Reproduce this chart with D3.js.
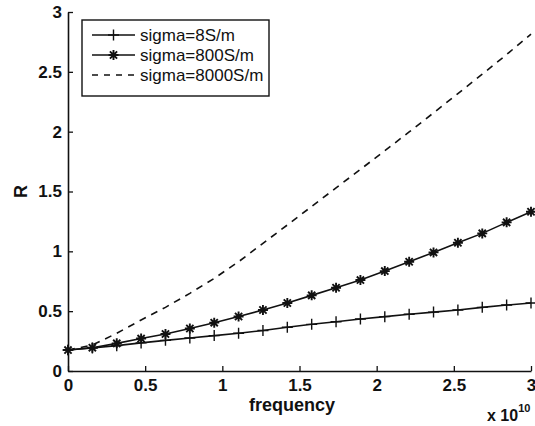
<!DOCTYPE html>
<html>
<head>
<meta charset="utf-8">
<script src="https://cdn.jsdelivr.net/npm/d3@7"></script>
<style>
  body { margin: 0; background: #fff; }
  text { font-family: "Liberation Sans", Arial, sans-serif; fill: #111; }
</style>
</head>
<body>
<svg id="chart" width="535" height="426"></svg>
<script>
// 20 points, linspace(0, 3e10, 20), in units of 1e10
var freq = d3.range(20).map(function(i){ return i * 3 / 19; });

var sigma8 = [0.175, 0.192, 0.212, 0.235, 0.256, 0.276, 0.296, 0.316, 0.338, 0.366,
              0.39, 0.412, 0.434, 0.454, 0.474, 0.492, 0.51, 0.532, 0.551, 0.568];
var sigma800 = [0.175, 0.195, 0.231, 0.271, 0.309, 0.355, 0.404, 0.455, 0.51, 0.568,
                0.632, 0.696, 0.76, 0.835, 0.913, 0.991, 1.072, 1.15, 1.242, 1.331];
var sigma8000 = [0.175, 0.217, 0.315, 0.426, 0.532, 0.649, 0.774, 0.913, 1.067, 1.22,
                 1.375, 1.53, 1.685, 1.84, 1.998, 2.157, 2.318, 2.48, 2.645, 2.815];

var xTicks = [0, 0.5, 1, 1.5, 2, 2.5, 3];
var yTicks = [0, 0.5, 1, 1.5, 2, 2.5, 3];
var legendLabels = ['sigma=8S/m', 'sigma=800S/m', 'sigma=8000S/m'];

var svg = d3.select('#chart');

var x = d3.scaleLinear().domain([0, 3]).range([68, 531]);
var y = d3.scaleLinear().domain([0, 3]).range([371, 12]);

// axes, ticks pointing inward
var xAxis = svg.append('g')
	.attr('transform', 'translate(0,' + y(0) + ')')
	.call(d3.axisBottom(x).tickValues(xTicks).tickSizeInner(-5).tickSizeOuter(0)
		.tickPadding(8).tickFormat(d3.format('')));
var yAxis = svg.append('g')
	.attr('transform', 'translate(' + x(0) + ',0)')
	.call(d3.axisLeft(y).tickValues(yTicks).tickSizeInner(-5).tickSizeOuter(0)
		.tickPadding(6).tickFormat(d3.format('')));

[xAxis, yAxis].forEach(function(a){
	a.select('.domain').attr('stroke', '#111').attr('stroke-width', 1.6);
	a.selectAll('.tick line').attr('stroke', '#111').attr('stroke-width', 1.3);
	a.selectAll('.tick text')
		.style('font-size', '17px')
		.style('font-weight', 'bold')
		.style('font-family', '"Liberation Sans", Arial, sans-serif')
		.attr('fill', '#111');
});

// axis titles
svg.append('text')
	.attr('x', 292).attr('y', 411)
	.attr('text-anchor', 'middle')
	.style('font-size', '18px')
	.style('font-weight', 'bold')
	.text('frequency');

svg.append('text')
	.attr('transform', 'translate(27,191.5) rotate(-90)')
	.attr('text-anchor', 'middle')
	.style('font-size', '18px')
	.style('font-weight', 'bold')
	.text('R');

var expo = svg.append('text')
	.attr('x', 487).attr('y', 421)
	.style('font-size', '16px')
	.style('font-weight', 'bold');
expo.append('tspan').text('x 10');
expo.append('tspan').attr('dy', -9).style('font-size', '11px').text('10');

// lines
var line = d3.line()
	.x(function(d){ return x(d[0]); })
	.y(function(d){ return y(d[1]); });

function pairs(vals){
	return freq.map(function(f, i){ return [f, vals[i]]; });
}

var plot = svg.append('g');

plot.append('path')
	.datum(pairs(sigma8000))
	.attr('d', line)
	.attr('fill', 'none')
	.attr('stroke', '#111')
	.attr('stroke-width', 1.6)
	.attr('stroke-dasharray', '7,6');

plot.append('path')
	.datum(pairs(sigma8))
	.attr('d', line)
	.attr('fill', 'none')
	.attr('stroke', '#111')
	.attr('stroke-width', 1.6);

plot.append('path')
	.datum(pairs(sigma800))
	.attr('d', line)
	.attr('fill', 'none')
	.attr('stroke', '#111')
	.attr('stroke-width', 1.6);

function plusPath(s){
	return 'M' + (-s) + ',0H' + s + 'M0,' + (-s) + 'V' + s;
}
function starPath(s){
	var d = 'M' + (-s) + ',0H' + s + 'M0,' + (-s) + 'V' + s;
	var k = s * 0.72;
	d += 'M' + (-k) + ',' + (-k) + 'L' + k + ',' + k;
	d += 'M' + (-k) + ',' + k + 'L' + k + ',' + (-k);
	return d;
}

plot.selectAll('.plus')
	.data(pairs(sigma8))
	.enter()
	.append('path')
	.attr('class', 'plus')
	.attr('transform', function(d){ return 'translate(' + x(d[0]) + ',' + y(d[1]) + ')'; })
	.attr('d', plusPath(5.5))
	.attr('stroke', '#111')
	.attr('stroke-width', 1.4)
	.attr('fill', 'none');

plot.selectAll('.star')
	.data(pairs(sigma800))
	.enter()
	.append('path')
	.attr('class', 'star')
	.attr('transform', function(d){ return 'translate(' + x(d[0]) + ',' + y(d[1]) + ')'; })
	.attr('d', starPath(5))
	.attr('stroke', '#111')
	.attr('stroke-width', 1.9)
	.attr('fill', 'none');

// legend
var lg = svg.append('g');
lg.append('rect')
	.attr('x', 82).attr('y', 20)
	.attr('width', 187).attr('height', 76)
	.attr('fill', '#fff')
	.attr('stroke', '#111')
	.attr('stroke-width', 1.4);

var rowsY = [35, 55, 75];
legendLabels.forEach(function(lbl, i){
	var ly = rowsY[i];
	var l = lg.append('line')
		.attr('x1', 92).attr('x2', 135)
		.attr('y1', ly).attr('y2', ly)
		.attr('stroke', '#111')
		.attr('stroke-width', 1.4);
	if(i === 2){
		l.attr('stroke-dasharray', '6,6');
	}
	if(i === 0){
		lg.append('path').attr('transform', 'translate(113.5,' + ly + ')')
			.attr('d', plusPath(5.5)).attr('stroke', '#111').attr('stroke-width', 1.4);
	}
	if(i === 1){
		lg.append('path').attr('transform', 'translate(113.5,' + ly + ')')
			.attr('d', starPath(5)).attr('stroke', '#111').attr('stroke-width', 1.9);
	}
	lg.append('text')
		.attr('x', 140).attr('y', ly + 6)
		.style('font-size', '17px')
		.text(lbl);
});
</script>
</body>
</html>
